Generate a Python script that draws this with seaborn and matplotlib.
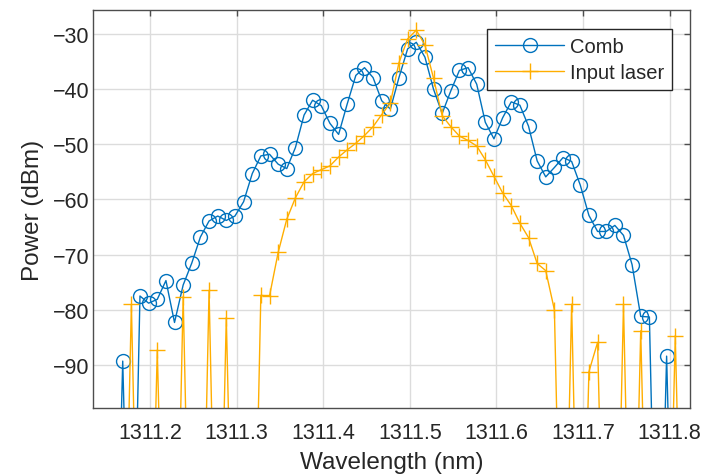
import numpy as np
import pandas as pd
import seaborn as sns
import matplotlib.pyplot as plt

# -150 stands for samples far below the noise floor (drawn off the bottom of the axes)
LOW = -150.0

wavelength = [
    1311.1585, 1311.1685, 1311.1785, 1311.1884, 1311.1984, 1311.2084, 1311.2184, 1311.2283, 1311.2383, 1311.2483,
    1311.2582, 1311.2682, 1311.2782, 1311.2881, 1311.2981, 1311.3081, 1311.3181, 1311.3280, 1311.3380, 1311.3480,
    1311.3579, 1311.3679, 1311.3779, 1311.3878, 1311.3978, 1311.4078, 1311.4178, 1311.4277, 1311.4377, 1311.4477,
    1311.4576, 1311.4676, 1311.4776, 1311.4875, 1311.4975, 1311.5075, 1311.5175, 1311.5274, 1311.5374, 1311.5474,
    1311.5573, 1311.5673, 1311.5773, 1311.5872, 1311.5972, 1311.6072, 1311.6172, 1311.6271, 1311.6371, 1311.6471,
    1311.6570, 1311.6670, 1311.6770, 1311.6869, 1311.6969, 1311.7069, 1311.7169, 1311.7268, 1311.7368, 1311.7468,
    1311.7567, 1311.7667, 1311.7767, 1311.7866, 1311.7966, 1311.8066, 1311.8166,
]

comb = [
    LOW, -89.3, LOW, -77.5, -78.8, -78.1, -74.7, -82.3, -75.5, -71.5,
    -66.8, -63.9, -63.0, -63.8, -63.0, -60.4, -55.3, -52.1, -51.8, -53.6,
    -54.4, -50.6, -44.7, -42.0, -43.0, -46.2, -48.2, -42.7, -37.5, -36.1,
    -37.9, -42.1, -43.6, -37.9, -32.7, -31.5, -34.2, -40.0, -44.4, -40.3,
    -36.6, -36.1, -39.1, -46.0, -49.0, -45.2, -42.3, -42.9, -46.7, -53.0,
    -55.9, -54.2, -52.4, -53.1, -57.4, -62.9, -65.8, -65.8, -64.7, -66.5,
    -71.8, -81.2, -81.3, LOW, -88.4, LOW, LOW,
]

laser = [
    LOW, LOW, -79.0, LOW, LOW, -87.3, LOW, LOW, -77.6, LOW,
    LOW, -76.5, LOW, -81.4, LOW, LOW, LOW, -77.4, -77.5, -69.6,
    -63.6, -59.7, -56.8, -55.3, -54.6, -53.9, -52.3, -51.0, -49.8, -48.4,
    -46.8, -44.6, -42.5, -35.2, -30.9, -29.3, -32.0, -38.0, -44.8, -46.8,
    -48.5, -49.3, -50.3, -52.8, -55.8, -58.8, -61.1, -64.3, -66.9, -71.6,
    -72.9, -80.0, LOW, -79.0, LOW, -91.2, -85.9, LOW, LOW, -79.0,
    LOW, -83.8, LOW, LOW, LOW, -84.7, LOW,
]

x_ticks = [1311.2, 1311.3, 1311.4, 1311.5, 1311.6, 1311.7, 1311.8]
y_ticks = [-90, -80, -70, -60, -50, -40, -30]

df = pd.DataFrame({"wavelength": wavelength, "Comb": comb, "Input laser": laser})

sns.set_style("white")
plt.rcParams["font.family"] = ["Liberation Sans", "DejaVu Sans"]

BLUE = "#0072BD"
ORANGE = "#FFAE00"

fig = plt.figure(figsize=(7.03, 4.77), dpi=100)
ax = fig.add_axes([0.1327, 0.1426, 0.8488, 0.8343])

#comb: blue circles, input laser: orange plus signs
sns.lineplot(data=df, x="wavelength", y="Comb", ax=ax, color=BLUE, lw=1.0,
             marker="o", markersize=10, markerfacecolor="none", markeredgecolor=BLUE,
             markeredgewidth=1.0, sort=False, estimator=None, label="Comb")
sns.lineplot(data=df, x="wavelength", y="Input laser", ax=ax, color=ORANGE, lw=1.0,
             marker="+", markersize=12, markeredgecolor=ORANGE, markeredgewidth=1.0,
             sort=False, estimator=None, label="Input laser")

ax.set_xlim(1311.1345, 1311.8236)
ax.set_ylim(-97.8, -25.65)
ax.set_xticks(x_ticks)
ax.set_xticklabels([f"{t:.1f}" for t in x_ticks])
ax.set_yticks(y_ticks)

ax.grid(True, color="#DCDCDC", lw=1)
ax.set_axisbelow(True)
for s in ax.spines.values():
    s.set_color("#4D4D4D")
    s.set_linewidth(1)
ax.tick_params(direction="in", top=True, right=True, length=4, width=1, color="#4D4D4D",
               labelsize=15.5, labelcolor="#262626")
ax.tick_params(axis="x", pad=10)
ax.tick_params(axis="y", pad=3)

ax.set_xlabel("Wavelength (nm)", fontsize=17.5, color="#262626", labelpad=6)
ax.set_ylabel("Power (dBm)", fontsize=17.5, color="#262626", labelpad=6)

leg = ax.legend(loc="upper right", bbox_to_anchor=(0.970, 0.952), fontsize=14.5,
                frameon=True, fancybox=False, framealpha=1, edgecolor="#262626",
                handlelength=3.4, handletextpad=0.3, borderpad=0.4, labelspacing=0.35,
                borderaxespad=0)
leg.get_frame().set_linewidth(1)

fig.savefig("out.png", dpi=100)
